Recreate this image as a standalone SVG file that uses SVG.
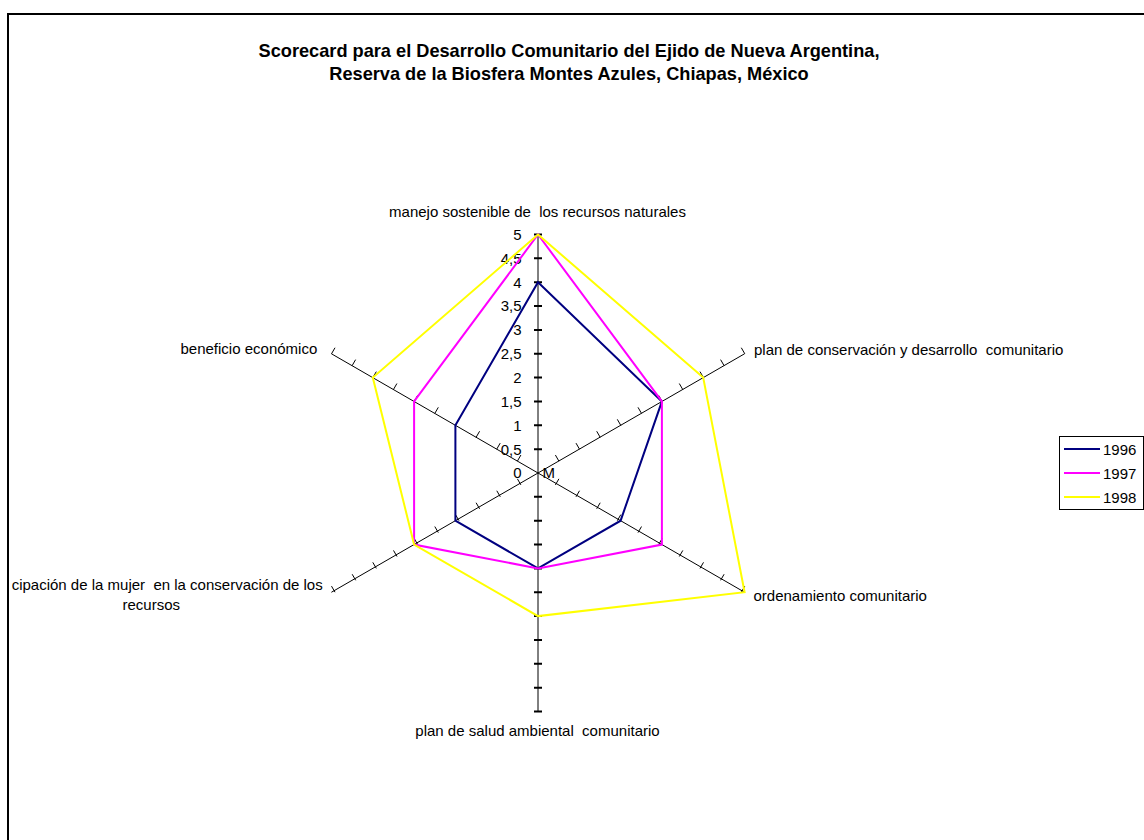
<svg xmlns="http://www.w3.org/2000/svg" width="1144" height="840" viewBox="0 0 1144 840">
<style>
text{font-family:"Liberation Sans",Arial,sans-serif;font-size:15px;fill:#000;white-space:pre}
.title{font-weight:bold;font-size:18.2px;text-anchor:middle}
.num{text-anchor:end}
.mid{text-anchor:middle}
.end{text-anchor:end}
.axis{stroke:#000;stroke-width:1;fill:none}
.tk{stroke:#000;stroke-width:1;fill:none}
.tkv{stroke:#000;stroke-width:2;fill:none}
.s96{stroke:#000080;stroke-width:2;fill:none}
.s97{stroke:#FF00FF;stroke-width:2;fill:none}
.s98{stroke:#FFFF00;stroke-width:2;fill:none}
</style>
<rect id="background" x="0" y="0" width="1144" height="840" fill="#fff"/>
<rect id="frame" x="8" y="14" width="1150" height="840" fill="#fff" stroke="#000" stroke-width="2"/>

<g id="title">
<text class="title" x="569" y="57" xml:space="preserve">Scorecard para el Desarrollo Comunitario del Ejido de Nueva Argentina,</text>
<text class="title" x="569" y="80" xml:space="preserve">Reserva de la Biosfera Montes Azules, Chiapas, México</text>
</g>

<g id="axes">
<line class="axis" x1="538" y1="234.5" x2="538" y2="711.5"/>
<line class="axis" x1="331.4" y1="592.25" x2="744.6" y2="353.75"/>
<line class="axis" x1="331.4" y1="353.75" x2="744.6" y2="592.25"/>
<path class="tkv" d="M534 449.15H542M534 425.3H542M534 401.45H542M534 377.6H542M534 353.75H542M534 329.9H542M534 306.05H542M534 282.2H542M534 258.35H542M534 234.5H542
M534 496.85H542M534 520.7H542M534 544.55H542M534 568.4H542M534 592.25H542M534 616.1H542M534 639.95H542M534 663.8H542M534 687.65H542M534 711.5H542"/>
<path class="tk" d="
M558.9 461.1l-3.5 -6.06M579.5 449.2l-3.5 -6.06M600.2 437.3l-3.5 -6.06M620.8 425.4l-3.5 -6.06M641.5 413.4l-3.5 -6.06M662.2 401.5l-3.5 -6.06M682.8 389.6l-3.5 -6.06M703.5 377.7l-3.5 -6.06M724.1 365.7l-3.5 -6.06M744.8 353.8l-3.5 -6.06
M520.9 484.9l-3.5 -6.06M500.3 496.8l-3.5 -6.06M479.6 508.8l-3.5 -6.06M459.0 520.7l-3.5 -6.06M438.3 532.6l-3.5 -6.06M417.7 544.5l-3.5 -6.06M397.0 556.5l-3.5 -6.06M376.3 568.4l-3.5 -6.06M355.7 580.3l-3.5 -6.06M335.0 592.2l-3.5 -6.06
M517.4 461.1l3.5 -6.06M496.7 449.2l3.5 -6.06M476.1 437.3l3.5 -6.06M455.4 425.4l3.5 -6.06M434.8 413.4l3.5 -6.06M414.1 401.5l3.5 -6.06M393.4 389.6l3.5 -6.06M372.8 377.7l3.5 -6.06M352.1 365.7l3.5 -6.06M331.5 353.8l3.5 -6.06
M555.4 484.9l3.5 -6.06M576.0 496.8l3.5 -6.06M596.7 508.8l3.5 -6.06M617.3 520.7l3.5 -6.06M638.0 532.6l3.5 -6.06M658.7 544.5l3.5 -6.06M679.3 556.5l3.5 -6.06M700.0 568.4l3.5 -6.06M720.6 580.3l3.5 -6.06M741.3 592.2l3.5 -6.06"/>
</g>

<g id="axis-numbers">
<text class="num" x="521.5" y="478.3">0</text>
<text class="num" x="521.5" y="454.5">0,5</text>
<text class="num" x="521.5" y="430.6">1</text>
<text class="num" x="521.5" y="406.8">1,5</text>
<text class="num" x="521.5" y="382.9">2</text>
<text class="num" x="521.5" y="359.1">2,5</text>
<text class="num" x="521.5" y="335.2">3</text>
<text class="num" x="521.5" y="311.4">3,5</text>
<text class="num" x="521.5" y="287.5">4</text>
<text class="num" x="521.5" y="263.7">4,5</text>
<text class="num" x="521.5" y="239.8">5</text>
<text x="542.5" y="478">M</text>
</g>

<g id="series">
<polygon id="series-1996" class="s96" points="538,282.2 661.9,401.45 620.6,520.7 538,568.4 455.4,520.7 455.4,425.3"/>
<polygon id="series-1997" class="s97" points="538,234.5 661.9,401.45 661.9,544.55 538,568.4 414.1,544.55 414.1,401.45"/>
<polygon id="series-1998" class="s98" points="538,234.5 703.2,377.6 744.6,592.25 538,616.1 414.1,544.55 372.8,377.6"/>
</g>

<g id="category-labels">
<text class="mid" x="537.5" y="217" xml:space="preserve">manejo sostenible de  los recursos naturales</text>
<text x="754" y="354.5" xml:space="preserve">plan de conservación y desarrollo  comunitario</text>
<text x="753.5" y="600.5">ordenamiento comunitario</text>
<text class="mid" x="537.5" y="736" xml:space="preserve">plan de salud ambiental  comunitario</text>
<text class="end" x="322.7" y="590" xml:space="preserve">cipación de la mujer  en la conservación de los</text>
<text class="mid" x="151.3" y="610">recursos</text>
<text x="180.5" y="353.5">beneficio económico</text>
</g>

<g id="legend">
<rect x="1059.5" y="436.5" width="84" height="73" fill="#fff" stroke="#000" stroke-width="1"/>
<line class="s96" x1="1064" y1="449" x2="1100" y2="449"/>
<line class="s97" x1="1064" y1="473" x2="1100" y2="473"/>
<line class="s98" x1="1064" y1="497" x2="1100" y2="497"/>
<text x="1103" y="454.5">1996</text>
<text x="1103" y="478.5">1997</text>
<text x="1103" y="503">1998</text>
</g>
</svg>
